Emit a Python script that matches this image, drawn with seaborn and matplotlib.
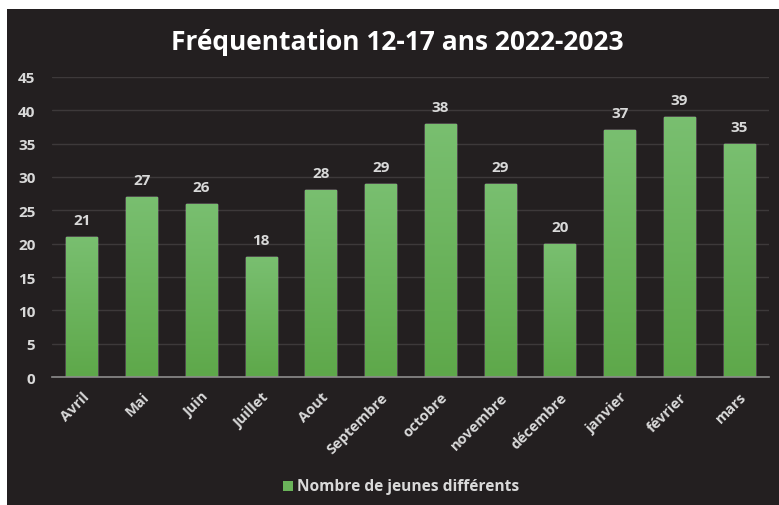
import numpy as np
import pandas as pd
import seaborn as sns
import matplotlib.pyplot as plt
from matplotlib.patches import Rectangle
from matplotlib.colors import LinearSegmentedColormap

# data
mois = ["Avril", "Mai", "Juin", "Juillet", "Aout", "Septembre", "octobre",
        "novembre", "décembre", "janvier", "février", "mars"]
jeunes = [21, 27, 26, 18, 28, 29, 38, 29, 20, 37, 39, 35]
serie = "Nombre de jeunes différents"

BG = "#231f20"
TXT = "#d9d9d9"

sns.set_theme(style="dark")
plt.rcParams["font.family"] = ["Open Sans", "DejaVu Sans"]

W, H = 779, 506
fig = plt.figure(figsize=(W / 100, H / 100), dpi=100)
fig.patch.set_facecolor("white")
fig.patches.append(Rectangle((7 / W, 0), 1, (H - 10) / H, transform=fig.transFigure,
                             facecolor=BG, edgecolor="none", zorder=-10))

ax = fig.add_axes([52 / W, 1 - 378 / H, (769 - 52) / W, (378 - 78) / H])
ax.set_facecolor(BG)

df = pd.DataFrame({"mois": mois, "n": jeunes})
sns.barplot(data=df, x="mois", y="n", color="#5ea84a", width=0.52, ax=ax,
            saturation=1, zorder=3)

# gradient fill on each bar
cmap = LinearSegmentedColormap.from_list("g", ["#5ea84a", "#79bf70"])
grad = np.linspace(0, 1, 256).reshape(-1, 1)
for p in ax.patches:
    x0, y0, w, h = p.get_x(), p.get_y(), p.get_width(), p.get_height()
    im = ax.imshow(grad, cmap=cmap, origin="lower", aspect="auto",
                   extent=(x0, x0 + w, y0, y0 + h), zorder=3.5)
    im.set_clip_path(p)
    ax.text(x0 + w / 2, h + 1.5, f"{int(h)}", ha="center", va="bottom",
            color=TXT, fontsize=11, fontweight="bold", zorder=5)

ax.set_xlim(-0.5, len(mois) - 0.5)
ax.set_ylim(0, 45)
ax.set_yticks(range(0, 50, 5))
ax.grid(axis="y", color="#3d393a", linewidth=1, zorder=0)
ax.grid(axis="x", visible=False)
for s in ["top", "right", "left"]:
    ax.spines[s].set_visible(False)
ax.spines["bottom"].set_color("#8c8c8c")
ax.spines["bottom"].set_linewidth(1.2)
ax.spines["bottom"].set_zorder(6)
ax.tick_params(axis="both", length=0, colors=TXT, labelsize=11)
ax.tick_params(axis="y", pad=12)
ax.set_xlabel("")
ax.set_ylabel("")
for lab in ax.get_yticklabels():
    lab.set_fontweight("bold")
ax.set_xticks(range(len(mois)))
ax.set_xticklabels(mois, rotation=45, ha="right", rotation_mode="anchor",
                   fontweight="bold", color=TXT, fontsize=10.5)
ax.tick_params(axis="x", pad=9)

fig.text(397 / W, 1 - 42 / H, "Fréquentation 12-17 ans 2022-2023", ha="center",
         va="center", color="white", fontsize=19, fontweight="bold")

# legend
fig.patches.append(Rectangle((283 / W, 1 - 492 / H), 10 / W, 10 / H,
                             transform=fig.transFigure, facecolor="#6ab35a",
                             edgecolor="none"))
fig.text(297 / W, 1 - 487 / H, serie, ha="left", va="center", color=TXT,
         fontsize=11.2, fontweight="bold")

fig.savefig("out.png", dpi=100, facecolor=fig.get_facecolor())
